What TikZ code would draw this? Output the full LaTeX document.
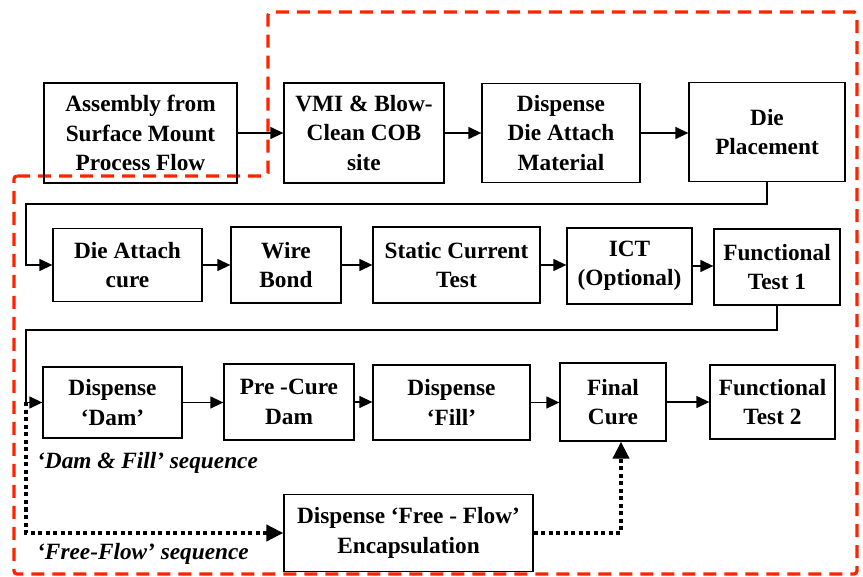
\documentclass[tikz,border=0pt]{standalone}
\usepackage{fontspec}
\setmainfont{Liberation Serif}
\usetikzlibrary{arrows.meta}
\definecolor{redline}{RGB}{255,35,0}
\tikzset{
  stepbox/.style={draw, line width=1.3pt, rectangle, align=center, font=\fontsize{23.3}{29.5}\selectfont\bfseries, inner sep=0pt},
  flowarrow/.style={line width=1.3pt, -{Triangle[length=13pt,width=12pt]}},
  freearrow/.style={line width=4pt, dash pattern=on 4pt off 3.5pt, -{Triangle[length=17pt,width=16pt]}},
  seqlabel/.style={font=\fontsize{23.3}{28}\selectfont\bfseries\itshape, anchor=west, inner sep=0pt},
}
\begin{document}
\begin{tikzpicture}[x=1pt,y=-1pt]
\useasboundingbox (0,0) rectangle (863,577);
% red dashed outline
\draw[redline, line width=3.2pt, dash pattern=on 13pt off 8pt, rounded corners=3pt]
  (14,176) -- (268,176) -- (268,12) -- (857,12) -- (857,574) -- (14,574) -- cycle;
% row 1
\node[stepbox, minimum width=193pt, minimum height=100pt] (A) at (140.5,133) {Assembly from\\Surface Mount\\Process Flow};
\node[stepbox, minimum width=160pt, minimum height=100pt] (B) at (364,133) {VMI \& Blow-\\Clean COB\\site};
\node[stepbox, minimum width=158pt, minimum height=99pt] (C) at (561,133) {Dispense\\Die Attach\\Material};
\node[stepbox, minimum width=156pt, minimum height=99pt] (D) at (767,132) {Die\\Placement};
% row 2
\node[stepbox, minimum width=149pt, minimum height=73pt] (E) at (127.5,265) {Die Attach\\cure};
\node[stepbox, minimum width=110pt, minimum height=76pt] (F) at (286,265) {Wire\\Bond};
\node[stepbox, minimum width=167pt, minimum height=76pt] (G) at (456.5,265) {Static Current\\Test};
\node[stepbox, minimum width=125pt, minimum height=76pt] (H) at (629.5,266) {ICT\\(Optional)};
\node[stepbox, minimum width=126pt, minimum height=76pt] (I) at (777,267) {Functional\\Test 1};
% row 3
\node[stepbox, minimum width=139pt, minimum height=71pt] (J) at (112.5,402.5) {Dispense\\‘Dam’};
\node[stepbox, minimum width=130pt, minimum height=76pt] (K) at (289,402) {Pre -Cure\\Dam};
\node[stepbox, minimum width=157pt, minimum height=75pt] (L) at (451.5,402.5) {Dispense\\‘Fill’};
\node[stepbox, minimum width=106pt, minimum height=78pt] (M) at (613,402) {Final\\Cure};
\node[stepbox, minimum width=125pt, minimum height=74pt] (N) at (772.5,402) {Functional\\Test 2};
\node[stepbox, minimum width=249pt, minimum height=77pt] (O) at (408.5,533) {Dispense ‘Free - Flow’\\Encapsulation};
% labels
\node[seqlabel] (dfl) at (37,463) {‘Dam \& Fill’ sequence};
\node[seqlabel] (ffl) at (37,554) {‘Free-Flow’ sequence};
% helper coordinates
\coordinate (k1) at (26,204);
\coordinate (k2) at (26,330);
\coordinate (k3) at (26,402.5);
% connectors
\draw[flowarrow] (A.east) -- (B.west);
\draw[flowarrow] (B.east) -- (C.west);
\draw[flowarrow] (C.east) -- (D.west |- C.east);
\draw[flowarrow] (D.south) |- (k1) |- (E.west);
\draw[flowarrow] (E.east) -- (F.west |- E.east);
\draw[flowarrow] (F.east) -- (G.west);
\draw[flowarrow] (G.east) -- (H.west |- G.east);
\draw[flowarrow] (H.east) -- (I.west |- H.east);
\draw[flowarrow] (I.south) |- (k2) |- (J.west);
\draw[flowarrow] (J.east) -- (K.west |- J.east);
\draw[flowarrow] (K.east) -- (L.west |- K.east);
\draw[flowarrow] (L.east) -- (M.west |- L.east);
\draw[flowarrow] (M.east) -- (N.west |- M.east);
\draw[freearrow] (k3) |- (O.west);
\draw[freearrow] (O.east) -| ([xshift=8pt]M.south);
\end{tikzpicture}
\end{document}
